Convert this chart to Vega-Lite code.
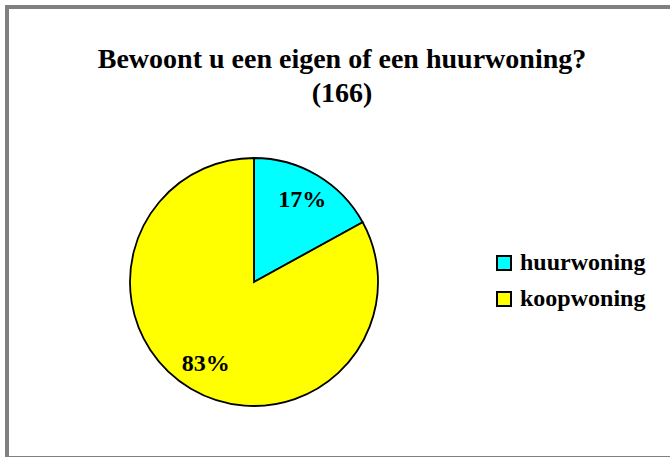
{
  "$schema": "https://vega.github.io/schema/vega-lite/v6.json",
  "width": 670,
  "height": 451,
  "autosize": "none",
  "padding": {"left": 7, "top": 7, "right": 0, "bottom": 0},
  "background": "white",
  "view": {"stroke": "#808080", "strokeWidth": 4, "fill": "white"},
  "config": {"view": {"stroke": "#808080", "strokeWidth": 4}},
  "title": {
    "text": ["Bewoont u een eigen of een huurwoning?", "(166)"],
    "font": "Liberation Serif",
    "fontSize": 28,
    "fontWeight": "bold",
    "color": "black",
    "anchor": "middle",
    "frame": "group",
    "lineHeight": 34,
    "baseline": "alphabetic",
    "dy": 127
  },
  "data": {
    "values": [
      {"woning": "huurwoning", "aandeel": 17, "label": "17%"},
      {"woning": "koopwoning", "aandeel": 83, "label": "83%"}
    ]
  },
  "layer": [
    {
      "mark": {"type": "arc", "outerRadius": 124, "stroke": "black", "strokeWidth": 1.8, "x": 247, "y": 275},
      "encoding": {
        "theta": {"field": "aandeel", "type": "quantitative", "stack": true},
        "color": {
          "field": "woning",
          "type": "nominal",
          "scale": {"domain": ["huurwoning", "koopwoning"], "range": ["#00FFFF", "#FFFF00"]},
          "legend": {
            "title": null,
            "orient": "none",
            "legendX": 485,
            "legendY": 244,
            "symbolType": "square",
            "symbolSize": 196,
            "symbolStrokeColor": "black",
            "symbolStrokeWidth": 2,
            "symbolOpacity": 1,
            "labelFont": "Liberation Serif",
            "labelFontSize": 24,
            "labelFontWeight": "bold",
            "labelColor": "black",
            "labelOffset": 4,
            "rowPadding": 12,
            "padding": 0
          }
        }
      }
    },
    {
      "mark": {"type": "text", "radius": 95, "x": 247, "y": 275, "font": "Liberation Serif", "fontSize": 24, "fontWeight": "bold", "color": "black"},
      "encoding": {
        "theta": {"field": "aandeel", "type": "quantitative", "stack": true},
        "detail": {"field": "woning", "type": "nominal"},
        "text": {"field": "label", "type": "nominal"}
      }
    }
  ]
}
